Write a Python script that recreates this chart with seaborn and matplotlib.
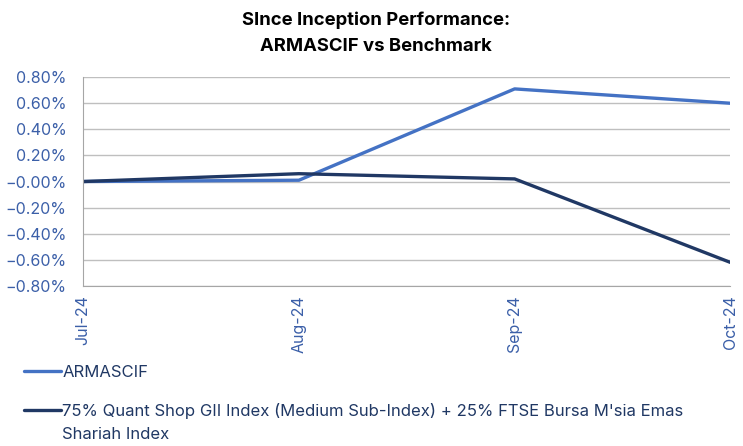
import pandas as pd
import numpy as np
import matplotlib.pyplot as plt
import seaborn as sns
from matplotlib.ticker import PercentFormatter

# Data (percent)
months = ['Jul-24', 'Aug-24', 'Sep-24', 'Oct-24']
armascif = [0.00, 0.01, 0.71, 0.60]
benchmark = [0.00, 0.06, 0.02, -0.62]
series_names = ['ARMASCIF',
                "75% Quant Shop GII Index (Medium Sub-Index) + 25% FTSE Bursa M'sia Emas"]
name_wrap = 'Shariah Index'

df = pd.DataFrame({
    'Month': months * 2,
    'Return': armascif + benchmark,
    'Series': [series_names[0]] * 4 + [series_names[1]] * 4,
})

sns.set_style('white')
plt.rcParams['font.family'] = ['Inter', 'DejaVu Sans']

tick_color = '#3B5FA8'
text_color = '#203864'

fig = plt.figure(figsize=(7.43, 4.46), dpi=100)
ax = fig.add_axes([0.112, 0.359, 0.871, 0.468])

sns.lineplot(data=df, x='Month', y='Return', hue='Series', sort=False,
             palette=['#4472C4', '#203864'], linewidth=2.4, ax=ax, legend=False)

ax.set_ylim(-0.8, 0.8)
ax.set_yticks(np.arange(-0.8, 0.81, 0.2))
ax.yaxis.set_major_formatter(PercentFormatter(decimals=2))
ax.set_xlim(0, 3)
ax.grid(axis='y', color='#BFBFBF', linewidth=1)
ax.set_xlabel('')
ax.set_ylabel('')
for s in ['top', 'right']:
    ax.spines[s].set_visible(False)
for s in ['left', 'bottom']:
    ax.spines[s].set_color('#A6A6A6')
ax.tick_params(axis='y', colors=tick_color, labelsize=11.5, length=0, pad=12)
ax.tick_params(axis='x', colors=tick_color, labelsize=11.5, length=0, pad=7)
plt.setp(ax.get_xticklabels(), rotation=90)

fig.suptitle('SInce Inception Performance:\nARMASCIF vs Benchmark', x=0.506, y=0.975,
             fontsize=13.3, fontweight='bold', color='black', linespacing=1.75)

handles = [plt.Line2D([], [], color='#4472C4', linewidth=2.4),
           plt.Line2D([], [], color='#203864', linewidth=2.4)]
leg = fig.legend(handles, series_names, loc='upper left', bbox_to_anchor=(0.012, 0.215),
                 frameon=False, fontsize=12, labelcolor=text_color, handlelength=2.2,
                 handletextpad=0.1, labelspacing=1.35)

# wrapped continuation of the long benchmark name
fig.canvas.draw()
bb = leg.get_texts()[1].get_window_extent()
fig.text(bb.x0 / fig.bbox.width, (bb.y0 - 23) / fig.bbox.height, name_wrap,
         fontsize=12, color=text_color, ha='left', va='bottom')

fig.savefig('out.png', dpi=100)
